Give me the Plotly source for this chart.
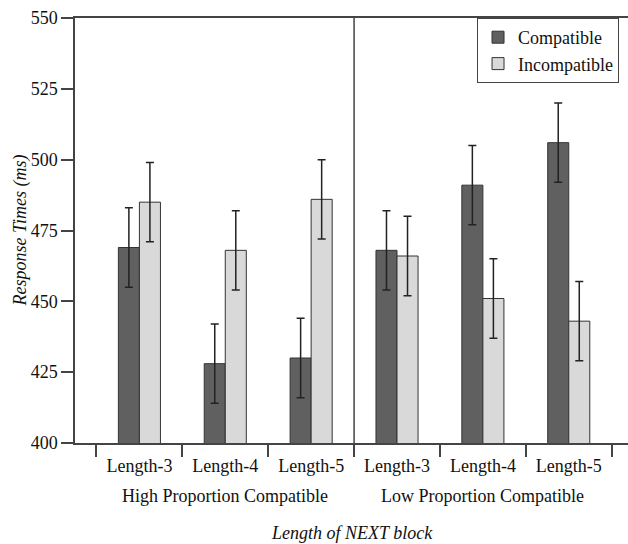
import plotly.graph_objects as go

groups = ["High Proportion Compatible", "Low Proportion Compatible"]
lengths = ["Length-3", "Length-4", "Length-5"] * 2
compatible = [469, 428, 430, 468, 491, 506]
incompatible = [485, 468, 486, 466, 451, 443]
compatible_err = [14, 14, 14, 14, 14, 14]
incompatible_err = [14, 14, 14, 14, 14, 14]
y_ticks = [400, 425, 450, 475, 500, 525, 550]

FONT = "Times New Roman, Liberation Serif, DejaVu Serif, serif"
AX = "#444444"
pos = list(range(len(lengths)))

fig = go.Figure()
fig.add_trace(go.Bar(
    name="Compatible", x=pos, y=compatible,
    marker=dict(color="#606060", line=dict(color="#333333", width=1)),
    error_y=dict(type="data", array=compatible_err, color="#222222", thickness=1.5, width=4),
))
fig.add_trace(go.Bar(
    name="Incompatible", x=pos, y=incompatible,
    marker=dict(color="#d9d9d9", line=dict(color="#333333", width=1)),
    error_y=dict(type="data", array=incompatible_err, color="#222222", thickness=1.5, width=4),
))

fig.update_layout(
    width=628, height=544,
    margin=dict(l=75, r=0, t=18, b=101),
    paper_bgcolor="white", plot_bgcolor="white",
    font=dict(family=FONT, size=18, color="#111111"),
    barmode="group", bargap=0.51, bargroupgap=0,
    showlegend=True,
    legend=dict(x=0.727, y=1.0, xanchor="left", yanchor="top",
                bgcolor="white", bordercolor=AX, borderwidth=1,
                font=dict(family=FONT, size=18), tracegroupgap=0,
                itemwidth=30),
    xaxis=dict(
        range=[-0.75, 5.69], automargin=False,
        tickvals=pos, ticktext=lengths, ticks="",
        showline=True, linecolor=AX, linewidth=1.5, mirror=True,
        minor=dict(tick0=-0.5, dtick=1, ticks="outside", ticklen=12, tickcolor=AX, tickwidth=1.5, showgrid=False),
        showgrid=False, zeroline=False,
        ticklabelstandoff=6,
    ),
    yaxis=dict(
        range=[400, 550], tickvals=y_ticks, automargin=False,
        showline=True, linecolor=AX, linewidth=1.5,
        ticks="outside", ticklen=12, tickcolor=AX, tickwidth=1.5,
        showgrid=False, zeroline=False,
    ),
)

fig.add_annotation(x=0, xref="x domain", y=0.5, yref="y domain", xanchor="center", yanchor="middle",
                   xshift=-55, textangle=-90,
                   text="<i>Response Times (ms)</i>", showarrow=False, font=dict(family=FONT, size=18))
for i, g in enumerate(groups):
    fig.add_annotation(x=3 * i + 1, xref="x", y=0, yref="y domain", yanchor="middle", yshift=-53,
                       text=g, showarrow=False, font=dict(family=FONT, size=18))
fig.add_annotation(x=0.5, xref="x domain", y=0, yref="y domain", yanchor="middle", yshift=-90,
                   text="<i>Length of NEXT block</i>", showarrow=False, font=dict(family=FONT, size=18))

fig.add_shape(type="line", xref="x", yref="y", x0=2.5, x1=2.5,
              y0=400, y1=550, line=dict(color=AX, width=1.5))

fig.write_html("out.html", config={"displayModeBar": False},
               post_script="document.body.style.margin='0';document.body.style.overflow='hidden';")
